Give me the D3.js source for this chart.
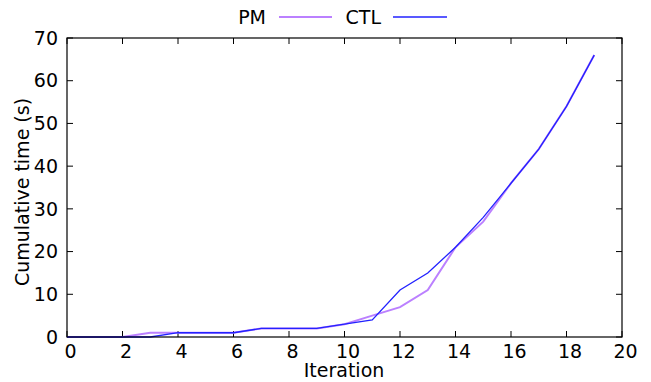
<!DOCTYPE html>
<html lang="en">
<head>
	<meta charset="UTF-8">
	<title>Cumulative time</title>
	<script src="https://cdn.jsdelivr.net/npm/d3@7/dist/d3.min.js"></script>
	<style>
		body { margin: 0; background: #fff; }
		text { font-family: "DejaVu Sans", sans-serif; fill: #000; font-size: 19px; }
	</style>
</head>
<body>
	<div id="vis"></div>

	<script>
		var width = 651;
		var height = 382;

		// data
		var iterations = [0, 1, 2, 3, 4, 5, 6, 7, 8, 9, 10, 11, 12, 13, 14, 15, 16, 17, 18, 19];
		var pmValues  = [0, 0, 0, 1, 1, 1, 1, 2, 2, 2, 3, 5, 7, 11, 21, 27, 36, 44, 54, 66];
		var ctlValues = [0, 0, 0, 0, 1, 1, 1, 2, 2, 2, 3, 4, 11, 15, 21, 28, 36, 44, 54, 66];
		var xTicks = [0, 2, 4, 6, 8, 10, 12, 14, 16, 18, 20];
		var yTicks = [0, 10, 20, 30, 40, 50, 60, 70];

		// plot box (note: "top" is taken by window.top)
		var pL = 67, pR = 622, pT = 38, pB = 337;

		var svg = d3.select("#vis").append("svg")
				.attr("width", width)
				.attr("height", height);

		var x = d3.scaleLinear().domain([0, 20]).range([pL, pR]);
		var y = d3.scaleLinear().domain([0, 70]).range([pB, pT]);

		// ticks on all four sides, pointing inwards
		var tickLen = 6;
		var g = svg.append("g").attr("stroke", "#000").attr("stroke-width", 1);
		xTicks.forEach(function(t) {
			g.append("line").attr("x1", x(t)).attr("x2", x(t)).attr("y1", pB).attr("y2", pB - tickLen);
			g.append("line").attr("x1", x(t)).attr("x2", x(t)).attr("y1", pT).attr("y2", pT + tickLen);
		});
		yTicks.forEach(function(t) {
			g.append("line").attr("x1", pL).attr("x2", pL + tickLen).attr("y1", y(t)).attr("y2", y(t));
			g.append("line").attr("x1", pR).attr("x2", pR - tickLen).attr("y1", y(t)).attr("y2", y(t));
		});

		// tick labels (gnuplot puts them a few px right of the tick)
		svg.selectAll(".xl").data(xTicks).enter().append("text")
			.attr("x", function(d) { return x(d) + 3.5; })
			.attr("y", 358)
			.attr("text-anchor", "middle")
			.text(function(d) { return d; });

		svg.selectAll(".yl").data(yTicks).enter().append("text")
			.attr("x", 58)
			.attr("y", function(d) { return y(d); })
			.attr("dy", "0.35em")
			.attr("text-anchor", "end")
			.text(function(d) { return d; });

		// axis titles
		svg.append("text")
			.attr("x", 344)
			.attr("y", 377)
			.attr("text-anchor", "middle")
			.text("Iteration");

		svg.append("text")
			.attr("transform", "translate(29,192) rotate(-90)")
			.attr("text-anchor", "middle")
			.text("Cumulative time (s)");

		// lines
		var line = d3.line()
			.x(function(d) { return x(d[0]); })
			.y(function(d) { return y(d[1]); });

		svg.append("path")
			.datum(d3.zip(iterations, pmValues))
			.attr("fill", "none")
			.attr("stroke", "#bb80ff")
			.attr("stroke-width", 2)
			.attr("d", line);

		svg.append("path")
			.datum(d3.zip(iterations, ctlValues))
			.attr("fill", "none")
			.attr("stroke", "#2222ff")
			.attr("stroke-width", 1.3)
			.attr("d", line);

		// border
		svg.append("rect")
			.attr("x", pL).attr("y", pT)
			.attr("width", pR - pL).attr("height", pB - pT)
			.attr("fill", "none")
			.attr("stroke", "#000")
			.attr("stroke-width", 1.2);

		// legend
		var legend = [
			{ name: "PM", color: "#bb80ff", w: 2, tx: 266, x1: 279, x2: 332 },
			{ name: "CTL", color: "#2222ff", w: 1.3, tx: 381, x1: 393, x2: 447 }
		];
		legend.forEach(function(l) {
			svg.append("text")
				.attr("x", l.tx).attr("y", 17)
				.attr("dy", "0.35em")
				.attr("text-anchor", "end")
				.text(l.name);
			svg.append("line")
				.attr("x1", l.x1).attr("x2", l.x2)
				.attr("y1", 17).attr("y2", 17)
				.attr("stroke", l.color)
				.attr("stroke-width", l.w);
		});
	</script>
</body>
</html>
